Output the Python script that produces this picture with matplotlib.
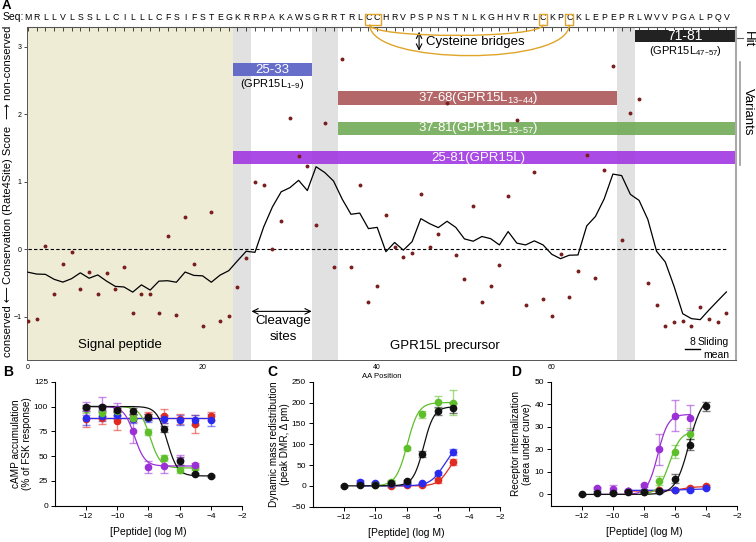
import numpy as np
import matplotlib
matplotlib.use("Agg")
import matplotlib.pyplot as plt
from matplotlib.path import Path
from matplotlib.patches import PathPatch, Rectangle
from matplotlib.lines import Line2D

plt.rcParams["font.family"] = ["Liberation Sans", "DejaVu Sans"]

# ---------------- panel A data ----------------
seq = "MRLLVLSSLLCILLLCFSIFSTEGKRRPAKAWSGRRTRLCCHRVPSPNSTNLKGHHVRLCKPCKLEPEPRLWVVPGALPQV"
scores = [-1.07, -1.04, 0.05, -0.66, -0.22, -0.035, -0.59, -0.33, -0.66, -0.35,
          -0.59, -0.27, -0.95, -0.66, -0.66, -0.94, 0.20, -0.97, 0.47, -0.22,
          -1.13, 0.55, -1.06, -0.99, -0.56, -0.13, 1.00, 0.95, 0.00, 0.42,
          1.95, 1.38, 1.23, 0.36, 1.87, -0.26, 2.82, -0.27, 0.95, -0.78,
          -0.55, 0.50, 0.03, -0.11, -0.06, 0.82, 0.04, 0.23, 2.17, -0.09,
          -0.44, 0.64, -0.78, -0.55, -0.23, 0.79, 1.91, -0.83, 1.14, -0.73,
          -0.99, -0.07, -0.71, -0.32, 1.39, -0.42, 1.17, 2.71, 0.13, 2.01,
          2.23, -0.50, -0.83, -1.14, -1.08, -1.06, -1.14, -0.86, -1.03, -1.08,
          -0.95]
window = 8
signal_peptide_end = 24
cleavage_sites = [(25, 26), (34, 36), (69, 70)]
cys_boxes = [(40, 41), (60, 60), (63, 63)]
cys_bridges = [(40, 60), (40, 63)]
variant_start = [25, 37, 37, 25]
variant_end = [33, 68, 81, 81]
variant_names = ["25-33", "37-68", "37-81", "25-81"]
variant_subs = ["1\u20139", "13\u201344", "13\u201357", ""]
hit_start, hit_end, hit_name, hit_sub = 71, 81, "71-81", "47\u201357"

# ---------------- panel B: cAMP ----------------
camp_black_x = [-12, -11, -10, -9, -8, -7, -6, -5, -4]
camp_black = [100, 99, 96, 95, 89, 77, 45, 32, 30]
camp_black_err = [2, 3, 2, 3, 3, 3, 4, 1, 1]
camp_green_x = [-12, -11, -10, -9, -8, -7, -6, -5]
camp_green = [97, 93, 95, 88, 74, 48, 36, 38]
camp_green_err = [4, 6, 4, 3, 3, 3, 3, 2]
camp_purple_x = [-12, -11, -10, -9, -8, -7, -6, -5]
camp_purple = [98, 100, 97, 75, 39, 40, 46, 41]
camp_purple_err = [7, 10, 7, 12, 6, 7, 5, 2]
camp_red_x = [-12, -11, -10, -9, -8, -7, -6, -5, -4]
camp_red = [87, 88, 85, 88, 90, 90, 87, 82, 90]
camp_red_err = [8, 6, 9, 4, 4, 7, 5, 9, 4]
camp_blue_x = [-12, -11, -10, -9, -8, -7, -6, -5, -4]
camp_blue = [88, 90, 91, 87, 88, 87, 86, 86, 86]
camp_blue_err = [7, 5, 4, 4, 4, 4, 5, 5, 6]
# fit params: bottom, top, logEC50, hill
camp_fit = {"black": (30, 100, -6.8, -1.3), "green": (38, 100, -7.9, -1.3),
            "purple": (40, 100, -8.9, -1.3), "red": (88, 88, -8, -1), "blue": (88, 88, -8, -1)}

# ---------------- panel C: DMR ----------------
dmr_black_x = [-12, -11, -10, -9, -8, -7, -6, -5]
dmr_black = [0, 2, 2, 8, 12, 76, 179, 187]
dmr_black_err = [2, 3, 2, 3, 3, 7, 10, 12]
dmr_green_x = [-10, -9, -8, -7, -6, -5]
dmr_green = [2, 10, 90, 172, 202, 200]
dmr_green_err = [2, 3, 4, 8, 14, 30]
dmr_blue_x = [-11, -10, -9, -8, -7, -6, -5]
dmr_blue = [10, 8, 5, 4, 6, 30, 82]
dmr_blue_err = [3, 2, 2, 2, 2, 3, 7]
dmr_red_x = [-9, -8, -7, -6, -5]
dmr_red = [0, 3, 2, 14, 58]
dmr_red_err = [2, 2, 2, 6, 7]
dmr_fit = {"black": (0, 190, -6.9, 1.3), "green": (0, 200, -7.95, 1.2),
           "blue": (0, 100, -5.6, 1.0), "red": (0, 80, -5.3, 1.2)}

# ---------------- panel D: internalization ----------------
int_black_x = [-12, -11, -10, -9, -8, -7, -6, -5, -4]
int_black = [0, 0.7, 0.6, 0.9, 1, 1.3, 7, 22, 39]
int_black_err = [0.3, 0.6, 0.6, 0.5, 0.5, 0.5, 2, 2.5, 1.8]
int_purple_x = [-11, -10, -9, -8, -7, -6, -5]
int_purple = [3, 2.5, 1.5, 4, 20, 35, 34]
int_purple_err = [0.5, 1.5, 0.5, 0.5, 7, 7, 5.5]
int_green_x = [-8, -7, -6, -5]
int_green = [1, 6, 19, 27]
int_green_err = [0.5, 2, 3, 2.3]
int_red_x = [-9, -8, -7, -6, -5, -4]
int_red = [1.5, 1.5, 2, 2, 2.8, 3.6]
int_red_err = [0.5, 0.5, 0.5, 0.5, 0.5, 0.5]
int_blue_x = [-9, -8, -7, -6, -5, -4]
int_blue = [1.5, 1.5, 1.5, 2, 2, 3]
int_blue_err = [0.5, 0.5, 0.5, 0.5, 0.5, 0.5]
int_fit = {"black": (0, 44, -5.1, 1.0), "purple": (0, 35.5, -7.1, 1.3),
           "green": (0, 28, -6.35, 1.2), "red": (1.5, 3.5, -5.5, 1.0), "blue": (1.8, 2.4, -5.5, 1.0)}

colors = {"black": "#111111", "green": "#5fbf2a", "purple": "#9b30d6",
          "red": "#e02b20", "blue": "#2b2bef"}

W, H = 756, 542
fig = plt.figure(figsize=(W / 100, H / 100), dpi=100)


def fx(px):
    return px / W


def fy(py):
    return 1 - py / H


# ================= Panel A =================
axA = fig.add_axes([fx(27), fy(360), fx(736) - fx(27), fy(27) - fy(360)])
xmin, xmax = -0.11, 81.1
axA.set_xlim(xmin, xmax)
axA.set_ylim(-1.64, 3.29)
pos = np.arange(len(seq))

axA.axvspan(xmin, signal_peptide_end - 0.5, color="#efecd6", lw=0, zorder=0)
for a, b in cleavage_sites:
    axA.axvspan(a - 1.5, b - 0.5, color="#e1e1e1", lw=0, zorder=0)

# variant bars
bar_y = [2.66, 2.24, 1.79, 1.355]
bar_col = ["#5a62c6", "#ad5a5b", "#74ad5b", "#a23be2"]
for s, e, name, sub, yy, c in zip(variant_start, variant_end, variant_names, variant_subs, bar_y, bar_col):
    right = e - 0.5 if e < len(seq) else xmax
    axA.barh(yy, right - (s - 1.5), left=s - 1.5, height=0.2, color=c, alpha=0.92, zorder=2)
    if name == "25-33":
        axA.text((s - 1.5 + right) / 2, yy, name, color="white", fontsize=9.5,
                 ha="center", va="center", zorder=4)
        axA.text((s - 1.5 + right) / 2, yy - 0.21, "(GPR15L$_{\\mathregular{%s}}$)" % sub,
                 fontsize=8, ha="center", va="center", zorder=4)
    else:
        label = name + "(GPR15L" + ("$_{\\mathregular{%s}}$" % sub if sub else "") + ")"
        axA.text(51.6, yy, label, color="white", fontsize=9.5, ha="center", va="center", zorder=4)

# hit bar
axA.barh(3.16, xmax - (hit_start - 1.5), left=hit_start - 1.5, height=0.18, color="#222222",
         zorder=2, clip_on=False)
axA.text((hit_start - 1.5 + xmax) / 2, 3.16, hit_name, color="white", fontsize=10,
         ha="center", va="center", zorder=4)
axA.text((hit_start - 1.5 + xmax) / 2, 2.94, "(GPR15L$_{\\mathregular{%s}}$)" % hit_sub,
         fontsize=8, ha="center", va="center", zorder=4)

axA.hlines(0, 0, 80, colors="black", linestyles=(0, (3, 2)), lw=0.8, zorder=3)
sliding = np.convolve(scores, np.ones(window) / window, mode="same")
axA.plot(pos, sliding, color="black", lw=0.9, zorder=3)
axA.plot(pos, scores, "o", ms=1.8, color="#7a1f1f", lw=0, zorder=3)

# ticks
axA.set_yticks([-1, 0, 1, 2, 3])
axA.tick_params(axis="y", labelsize=5, length=2.5, width=0.5, pad=1.5)
axA.set_xticks([0, 20, 40, 60])
axA.tick_params(axis="x", labelsize=5, length=0, pad=3)
axA.set_xlabel("AA Position", fontsize=5.5, labelpad=1)
for sp in ["left", "bottom", "top"]:
    axA.spines[sp].set_color("#555555")
    axA.spines[sp].set_linewidth(0.7)
axA.spines["right"].set_color("#aaaaaa")
axA.spines["right"].set_linewidth(1.5)

sec = axA.secondary_xaxis("top")
sec.set_xticks(pos)
sec.set_xticklabels(list(seq), fontsize=6.3)
sec.tick_params(direction="in", length=3, width=0.5, pad=3.5)
sec.spines["top"].set_color("#555555")
fig.text(fx(23.5), fy(17), "Seq:", fontsize=7.5, ha="right", va="center")

# cysteine boxes and bridges
for a, b in cys_boxes:
    axA.add_patch(Rectangle((a - 1.45, 3.325), b - a + 0.9, 0.16, fill=False,
                            ec="#e0a428", lw=1.0, clip_on=False, zorder=5))
for (a, b), depth in zip(cys_bridges, [0.16, 0.46]):
    x0, x1, y0 = a - 0.85, b - 1, 3.325
    verts = [(x0, y0), (x0, y0 - depth * 1.33), (x1, y0 - depth * 1.33), (x1, y0)]
    p = Path(verts, [Path.MOVETO, Path.CURVE4, Path.CURVE4, Path.CURVE4])
    axA.add_patch(PathPatch(p, fill=False, ec="#e0a428", lw=1.0, clip_on=False, zorder=5))
axA.annotate("", xy=(44.8, 3.22), xytext=(44.8, 2.94),
             arrowprops=dict(arrowstyle="<->", lw=0.8, color="black", shrinkA=0, shrinkB=0),
             annotation_clip=False)
axA.text(45.6, 3.07, "Cysteine bridges", fontsize=9.5, ha="left", va="center")

# region labels
axA.text(10.5, -1.42, "Signal peptide", fontsize=9.5, ha="center", va="center")
axA.text(47.8, -1.43, "GPR15L precursor", fontsize=9.5, ha="center", va="center")
axA.text(29.2, -1.07, "Cleavage", fontsize=9.5, ha="center", va="center")
axA.text(29.2, -1.30, "sites", fontsize=9.5, ha="center", va="center")
axA.annotate("", xy=(25.6, -0.92), xytext=(32.5, -0.92),
             arrowprops=dict(arrowstyle="<->", lw=0.8, color="black", shrinkA=0, shrinkB=0))
axA.plot([75.3, 77.0], [-1.48, -1.48], color="black", lw=1.0)
axA.text(76.1, -1.38, str(window), fontsize=7.5, ha="center", va="center")
axA.text(80.3, -1.38, "Sliding", fontsize=7.5, ha="right", va="center")
axA.text(80.3, -1.57, "mean", fontsize=7.5, ha="right", va="center")

# y label pieces
fig.text(fx(8), fy(72), "\u27f6 non-conserved", rotation=90, fontsize=8, ha="center", va="center")
fig.text(fx(8), fy(205), "Conservation (Rate4Site) Score", rotation=90, fontsize=8,
         ha="center", va="center")
fig.text(fx(8), fy(322), "conserved \u27f5", rotation=90, fontsize=8, ha="center", va="center")

# Hit / Variants
fig.text(fx(748), fy(39), "Hit", rotation=270, fontsize=9.5, ha="center", va="center")
fig.add_artist(Line2D([fx(737), fx(743)], [fy(38), fy(38)], color="#666666", lw=0.8))
fig.text(fx(748), fy(112), "Variants", rotation=270, fontsize=9.5, ha="center", va="center")
fig.add_artist(Line2D([fx(740), fx(740)], [fy(62), fy(165)], color="#999999", lw=1.2))

fig.text(fx(2), fy(6), "A", fontsize=9.5, fontweight="bold", ha="left", va="center")


# ================= dose-response panels =================
def logistic(x, bottom, top, logec50, hill):
    x = np.asarray(x, dtype=float)
    return bottom + (top - bottom) / (1 + 10 ** ((logec50 - x) * hill))


def dose_axes(rect, ylim, yticks, ylabel, letter, letter_px):
    ax = fig.add_axes(rect)
    ax.set_xlim(-14, -2)
    ax.set_ylim(*ylim)
    ax.set_xticks([-12, -10, -8, -6, -4, -2])
    ax.set_yticks(yticks)
    ax.tick_params(labelsize=6, length=3, width=0.7, pad=2)
    for sp in ["top", "right"]:
        ax.spines[sp].set_visible(False)
    for sp in ["left", "bottom"]:
        ax.spines[sp].set_linewidth(0.8)
    ax.set_xlabel("[Peptide] (log M)", fontsize=7.5, labelpad=5)
    ax.set_ylabel(ylabel, fontsize=7.2, labelpad=1.5, linespacing=1.1)
    fig.text(fx(letter_px[0]), fy(letter_px[1]), letter, fontsize=10, fontweight="bold",
             ha="left", va="center")
    return ax


def draw_series(ax, xs, ys, errs, fit, cname):
    c = colors[cname]
    ax.errorbar(xs, ys, yerr=errs, fmt="none", ecolor=c, alpha=0.55, elinewidth=1.0,
                capsize=3, capthick=1.0, zorder=3)
    grid = np.linspace(min(xs), max(xs), 200)
    ax.plot(grid, logistic(grid, *fit), color=c, lw=0.9, zorder=4)
    ax.plot(xs, ys, "o", ms=4.5, color=c, mec=c, zorder=5)


axB = dose_axes([fx(55), fy(505.7), fx(242) - fx(55), fy(381.7) - fy(505.7)], (0, 125),
                [0, 25, 50, 75, 100, 125], "cAMP accumulation\n(% of FSK response)", "B", (3, 372))
draw_series(axB, camp_red_x, camp_red, camp_red_err, camp_fit["red"], "red")
draw_series(axB, camp_blue_x, camp_blue, camp_blue_err, camp_fit["blue"], "blue")
draw_series(axB, camp_green_x, camp_green, camp_green_err, camp_fit["green"], "green")
draw_series(axB, camp_purple_x, camp_purple, camp_purple_err, camp_fit["purple"], "purple")
draw_series(axB, camp_black_x, camp_black, camp_black_err, camp_fit["black"], "black")

axC = dose_axes([fx(313), fy(506.7), fx(500) - fx(313), fy(381.7) - fy(506.7)], (-50, 250),
                [-50, 0, 50, 100, 150, 200, 250],
                "Dynamic mass redistribution\n(peak DMR, \u0394 pm)", "C", (267, 372))
draw_series(axC, dmr_red_x, dmr_red, dmr_red_err, dmr_fit["red"], "red")
draw_series(axC, dmr_blue_x, dmr_blue, dmr_blue_err, dmr_fit["blue"], "blue")
draw_series(axC, dmr_green_x, dmr_green, dmr_green_err, dmr_fit["green"], "green")
draw_series(axC, dmr_black_x, dmr_black, dmr_black_err, dmr_fit["black"], "black")

axD = dose_axes([fx(550.7), fy(505.7), fx(737) - fx(550.7), fy(381.7) - fy(505.7)], (-5, 50),
                [0, 10, 20, 30, 40, 50],
                "Receptor internalization\n(area under curve)", "D", (511, 372))
draw_series(axD, int_red_x, int_red, int_red_err, int_fit["red"], "red")
draw_series(axD, int_blue_x, int_blue, int_blue_err, int_fit["blue"], "blue")
draw_series(axD, int_green_x, int_green, int_green_err, int_fit["green"], "green")
draw_series(axD, int_purple_x, int_purple, int_purple_err, int_fit["purple"], "purple")
draw_series(axD, int_black_x, int_black, int_black_err, int_fit["black"], "black")

fig.savefig("out.png", dpi=100, facecolor="white")
